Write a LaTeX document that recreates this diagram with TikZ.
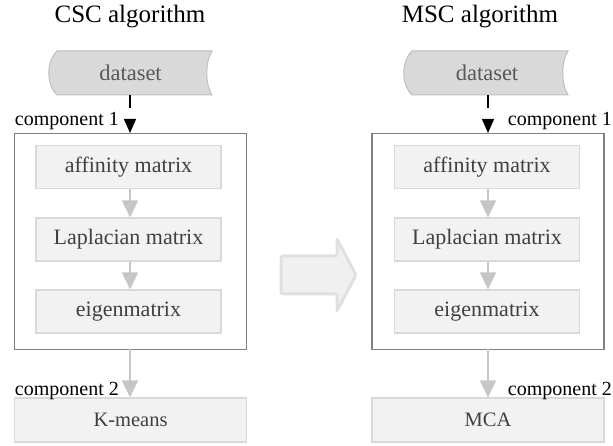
\documentclass[tikz,border=0pt]{standalone}
\usepackage{fontspec}
\setmainfont{Liberation Serif}
\usetikzlibrary{arrows.meta}
\definecolor{boxfill}{HTML}{F2F2F2}
\definecolor{boxline}{HTML}{D9D9D9}
\definecolor{dsfill}{HTML}{D9D9D9}
\definecolor{dsline}{HTML}{BFBFBF}
\definecolor{contline}{HTML}{808080}
\definecolor{garrow}{HTML}{C6C6C6}
\definecolor{txtgray}{HTML}{404040}
\tikzset{
  title/.style={font=\fontsize{25}{28}\selectfont, text=black},
  inner/.style={draw=boxline, fill=boxfill, line width=1.2pt, minimum width=185pt, minimum height=43pt,
    font=\fontsize{22}{24}\selectfont, text=txtgray, inner sep=0pt},
  outbox/.style={draw=boxline, fill=boxfill, line width=1.2pt, minimum width=232pt, minimum height=44pt,
    font=\fontsize{20.5}{24}\selectfont, text=txtgray, inner sep=0pt},
  container/.style={draw=contline, line width=1.3pt, minimum width=232pt, minimum height=216pt, inner sep=0pt},
  dstext/.style={font=\fontsize{22.5}{24}\selectfont, text=black!65, minimum width=163pt, minimum height=44pt, inner sep=0pt},
  dsshape/.style={draw=dsline, fill=dsfill, line width=1pt},
  complabel/.style={font=\fontsize{20}{24}\selectfont, text=black, inner sep=0pt},
  blackarrow/.style={line width=1.4pt, -{Triangle[length=14pt,width=12pt]}, dash pattern=on 13pt off 40pt},
  grayarrow/.style={draw=garrow, line width=1.8pt, -{Triangle[length=17pt,width=16pt]}},
  bigarrow/.style={draw=black!12, fill=black!6, line width=3pt, rounded corners=2pt},
}
\begin{document}
\begin{tikzpicture}[x=1pt,y=-1pt]
\useasboundingbox (0,0) rectangle (613,446);

% titles
\node[title] (t1) at (130,17) {CSC algorithm};
\node[title] (t2) at (480,17) {MSC algorithm};

% dataset shapes
\draw[dsshape] (57,51) -- (212,51) .. controls (205,62) and (205,84) .. (212,95) -- (57,95) .. controls (46,84) and (46,62) .. (57,51) -- cycle;
\node[dstext] (ds1) at (130.5,73) {dataset};
\draw[dsshape] (412,51) -- (568,51) .. controls (561,62) and (561,84) .. (568,95) -- (412,95) .. controls (401,84) and (401,62) .. (412,51) -- cycle;
\node[dstext] (ds2) at (487,73) {dataset};

% left column
\node[container] (c1) at (130.5,241.5) {};
\node[inner] (a1) at (128.5,167) {affinity matrix};
\node[inner] (l1) at (128.5,239.5) {Laplacian matrix};
\node[inner] (e1) at (128.5,311.5) {eigenmatrix};
\node[outbox] (k1) at (130.5,420) {K-means};
\coordinate (c1top) at (130,133);
\coordinate (c1bot) at (130,349);
\draw[blackarrow] (ds1.south -| c1top) -- (c1top);
\draw[grayarrow] (a1.south -| c1top) -- (l1.north -| c1top);
\draw[grayarrow] (l1.south -| c1top) -- (e1.north -| c1top);
\draw[grayarrow] (c1bot) -- (k1.north -| c1bot);
\node[complabel, anchor=east] (cl1) at (119,121) {component 1};
\node[complabel, anchor=east] (cl2) at (119,391) {component 2};

% right column
\node[container] (c2) at (488,241.5) {};
\node[inner] (a2) at (487,167) {affinity matrix};
\node[inner] (l2) at (487,239.5) {Laplacian matrix};
\node[inner] (e2) at (487,311.5) {eigenmatrix};
\node[outbox] (k2) at (488,420) {MCA};
\coordinate (c2top) at (488,133);
\coordinate (c2bot) at (488,349);
\draw[blackarrow] (ds2.south -| c2top) -- (c2top);
\draw[grayarrow] (a2.south -| c2top) -- (l2.north -| c2top);
\draw[grayarrow] (l2.south -| c2top) -- (e2.north -| c2top);
\draw[grayarrow] (c2bot) -- (k2.north -| c2bot);
\node[complabel, anchor=east] (cr1) at (612,121) {component 1};
\node[complabel, anchor=east] (cr2) at (612,391) {component 2};

% big transition arrow
\draw[bigarrow] (281,256) -- (337,256) -- (337,239) -- (356,275) -- (337,311) -- (337,294) -- (281,294) -- cycle;
\end{tikzpicture}
\end{document}
